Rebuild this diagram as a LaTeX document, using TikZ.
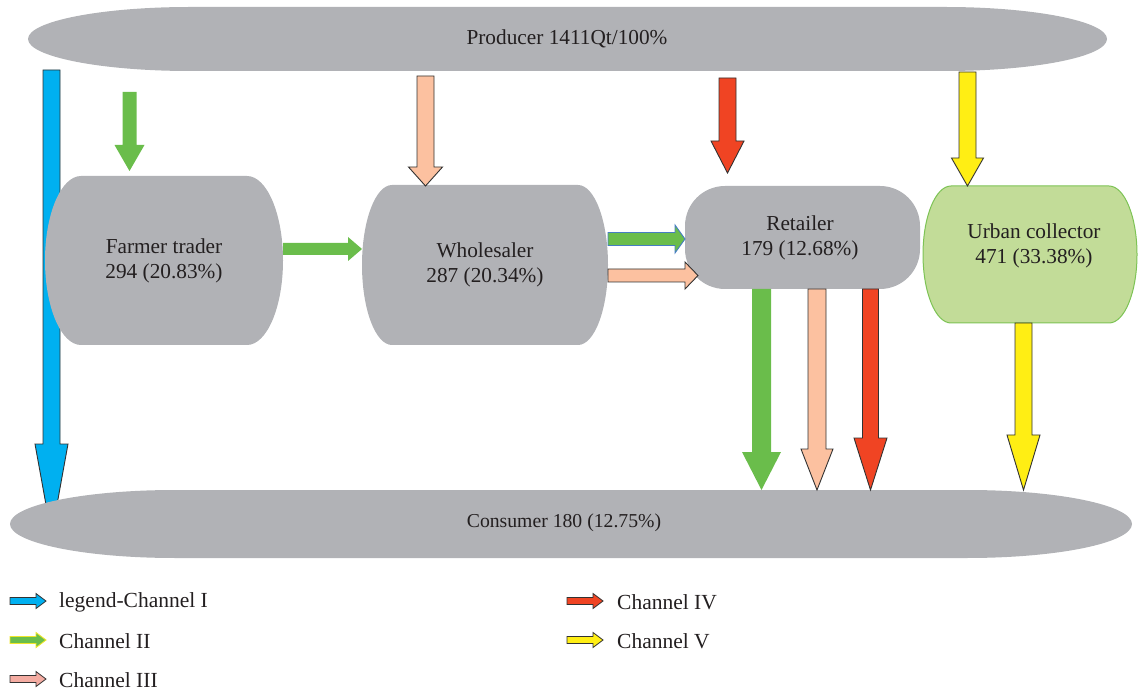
\documentclass[tikz,border=0pt]{standalone}
\usepackage{fontspec}
\setmainfont{Liberation Serif}
\usetikzlibrary{calc}
\definecolor{boxgray}{RGB}{177,178,182}
\definecolor{txtcol}{RGB}{35,31,32}
\definecolor{chblue}{RGB}{0,176,240}
\definecolor{chgreen}{RGB}{106,189,75}
\definecolor{chpink}{RGB}{252,193,160}
\definecolor{chpinkleg}{RGB}{244,172,162}
\definecolor{chred}{RGB}{240,68,35}
\definecolor{chyellow}{RGB}{255,238,20}
\definecolor{urbanfill}{RGB}{194,220,152}
\definecolor{urbanline}{RGB}{125,195,85}
\definecolor{outl}{RGB}{50,50,50}
\definecolor{blueline}{RGB}{70,125,195}
\definecolor{legyellowline}{RGB}{240,230,40}

\newcommand{\barrel}[3]{%
 \path[#1] let \p1=(#2.south west), \p2=(#2.north east), \n1={#3}, \n2={\y2-\y1} in
 ({\x1+\n1},\y2) -- ({\x2-\n1},\y2)
 .. controls ({\x2-0.448*\n1},\y2) and (\x2,{\y2-0.224*\n2}) .. (\x2,{0.5*(\y1+\y2)})
 .. controls (\x2,{\y1+0.224*\n2}) and ({\x2-0.448*\n1},\y1) .. ({\x2-\n1},\y1)
 -- ({\x1+\n1},\y1)
 .. controls ({\x1+0.448*\n1},\y1) and (\x1,{\y1+0.224*\n2}) .. (\x1,{0.5*(\y1+\y2)})
 .. controls (\x1,{\y2-0.224*\n2}) and ({\x1+0.448*\n1},\y2) .. ({\x1+\n1},\y2) -- cycle;}

\newcommand{\darrow}[6]{%
 \path[#1] let \p1=(#2), \p2=(#3) in
 ({\x2-#4},\y1) -- ({\x2-#4},{\y2+#6}) -- ({\x2-#5},{\y2+#6}) -- (\x2,\y2)
 -- ({\x2+#5},{\y2+#6}) -- ({\x2+#4},{\y2+#6}) -- ({\x2+#4},\y1) -- cycle;}

\newcommand{\rarrow}[6]{%
 \path[#1] let \p1=(#2), \p2=(#3) in
 (\x1,{\y2+#4}) -- ({\x2-#6},{\y2+#4}) -- ({\x2-#6},{\y2+#5}) -- (\x2,\y2)
 -- ({\x2-#6},{\y2-#5}) -- ({\x2-#6},{\y2-#4}) -- (\x1,{\y2-#4}) -- cycle;}

\begin{document}
\begin{tikzpicture}[x=1pt,y=-1pt,
 txt/.style={text=txtcol, font=\fontsize{21.3}{25.5}\selectfont, align=center, inner sep=0pt},
 smalltxt/.style={text=txtcol, font=\fontsize{19.7}{24}\selectfont, align=center, inner sep=0pt},
 legtxt/.style={text=txtcol, font=\fontsize{21.5}{25}\selectfont, anchor=west, inner sep=0pt},
 frame/.style={inner sep=0pt, outer sep=0pt, draw=none},
 grayshape/.style={fill=boxgray},
 urbanshape/.style={fill=urbanfill, draw=urbanline, line width=1pt},
 arrI/.style={fill=chblue, draw=outl, line width=0.9pt},
 arrII/.style={fill=chgreen},
 arrIIb/.style={fill=chgreen, draw=blueline, line width=0.9pt},
 arrIII/.style={fill=chpink, draw=outl, line width=0.9pt},
 arrIV/.style={fill=chred, draw=outl, line width=0.9pt},
 arrV/.style={fill=chyellow, draw=outl, line width=0.9pt},
 legI/.style={fill=chblue, draw=outl, line width=0.8pt},
 legII/.style={fill=chgreen, draw=legyellowline, line width=0.9pt},
 legIII/.style={fill=chpinkleg, draw=outl, line width=0.8pt},
 legIV/.style={fill=chred, draw=outl, line width=0.8pt},
 legV/.style={fill=chyellow, draw=outl, line width=0.8pt}]
\useasboundingbox (0,0) rectangle (1138,692);

% frames of the shapes
\node[frame, minimum width=1079pt, minimum height=64pt] (producer) at (567.5,39) {};
\node[frame, minimum width=1122pt, minimum height=68pt] (consumer) at (571,524) {};
\node[frame, minimum width=238pt, minimum height=169pt] (farmer) at (164,260.5) {};
\node[frame, minimum width=246pt, minimum height=160pt] (wholesaler) at (485,265) {};
\node[frame, minimum width=235pt, minimum height=103pt] (retailer) at (802.5,237.5) {};
\node[frame, minimum width=214pt, minimum height=137pt] (urban) at (1030,254.5) {};

% arrow end points
\coordinate (c1s) at (51.5,70);   \coordinate (c1e) at (51.5,535);
\coordinate (c2s) at (129.5,92);  \coordinate (c2e) at (129.5,171);
\coordinate (c2fs) at (283,249);  \coordinate (c2fe) at (362,249);
\coordinate (c3s) at (425.5,76);  \coordinate (c3e) at (425.5,186);
\coordinate (c4s) at (727.5,78);  \coordinate (c4e) at (727.5,173);
\coordinate (c5s) at (967.5,72);  \coordinate (c5e) at (967.5,186);
\coordinate (c2ws) at (608,239);  \coordinate (c2we) at (685,239);
\coordinate (c3ws) at (608,275.5);\coordinate (c3we) at (698,275.5);
\coordinate (c2rs) at (761.5,289);\coordinate (c2re) at (761.5,490);
\coordinate (c3rs) at (817,289);  \coordinate (c3re) at (817,490);
\coordinate (c4rs) at (870.5,289);\coordinate (c4re) at (870.5,490);
\coordinate (c5us) at (1023.5,323);\coordinate (c5ue) at (1023.5,490);

% shapes, channel I lies under the farmer trader and the consumer
\barrel{grayshape}{producer}{162}
\darrow{arrI}{c1s}{c1e}{8.5}{16.5}{91}
\barrel{grayshape}{farmer}{36}
\barrel{grayshape}{wholesaler}{30}
\path[grayshape, rounded corners=40pt] (retailer.south west) rectangle (retailer.north east);
\barrel{urbanshape}{urban}{28}
\barrel{grayshape}{consumer}{165}

% other channels
\darrow{arrII}{c2s}{c2e}{7}{15}{26}
\rarrow{arrII}{c2fs}{c2fe}{6}{12}{14}
\darrow{arrIII}{c3s}{c3e}{8.5}{17}{19}
\darrow{arrIV}{c4s}{c4e}{8.5}{16.5}{32}
\darrow{arrV}{c5s}{c5e}{8.5}{16}{28}
\rarrow{arrIIb}{c2ws}{c2we}{6.5}{14}{10}
\rarrow{arrIII}{c3ws}{c3we}{6.5}{13.5}{13}
\darrow{arrII}{c2rs}{c2re}{9.5}{19.5}{38}
\darrow{arrIII}{c3rs}{c3re}{9}{16}{41}
\darrow{arrIV}{c4rs}{c4re}{8}{16.5}{52}
\darrow{arrV}{c5us}{c5ue}{8.5}{16.5}{55}

% texts
\node[txt] (producer-t) at (567,39) {Producer 1411Qt/100\%};
\node[smalltxt] (consumer-t) at (564,523) {Consumer 180 (12.75\%)};
\node[txt] (farmer-t) at (164,261) {Farmer trader\\294 (20.83\%)};
\node[txt] (wholesaler-t) at (485,265) {Wholesaler\\287 (20.34\%)};
\node[txt] (retailer-t) at (800,238) {Retailer\\179 (12.68\%)};
\node[txt] (urban-t) at (1034,246) {Urban collector\\471 (33.38\%)};

% legend
\coordinate (l1s) at (10,601);  \coordinate (l1e) at (46,601);
\coordinate (l2s) at (10,640);  \coordinate (l2e) at (46,640);
\coordinate (l3s) at (10,679);  \coordinate (l3e) at (46,679);
\coordinate (l4s) at (567,601); \coordinate (l4e) at (603,601);
\coordinate (l5s) at (567,640); \coordinate (l5e) at (603,640);
\rarrow{legI}{l1s}{l1e}{3.5}{7.5}{10}
\rarrow{legII}{l2s}{l2e}{3.5}{7.5}{10}
\rarrow{legIII}{l3s}{l3e}{3.5}{7.5}{10}
\rarrow{legIV}{l4s}{l4e}{3.5}{7.5}{10}
\rarrow{legV}{l5s}{l5e}{3.5}{7.5}{10}
\node[legtxt] (leg1) at (59,602) {legend-Channel I};
\node[legtxt] (leg2) at (59,641) {Channel II};
\node[legtxt] (leg3) at (59,680) {Channel III};
\node[legtxt] (leg4) at (617,602) {Channel IV};
\node[legtxt] (leg5) at (617,641) {Channel V};
\end{tikzpicture}
\end{document}
